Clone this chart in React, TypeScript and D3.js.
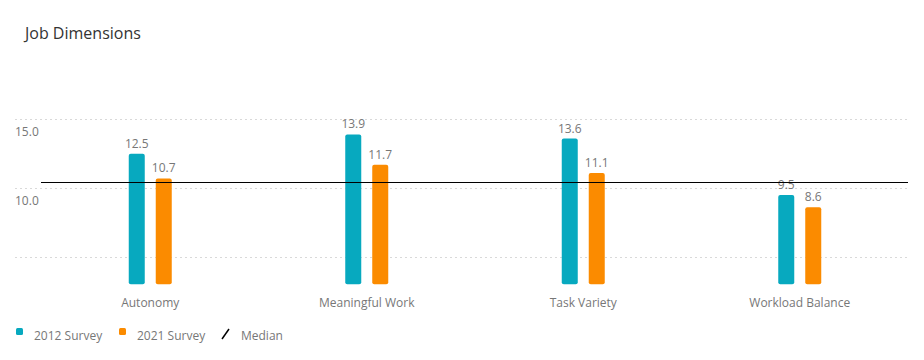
import React from 'react'
import * as d3 from 'd3'

const categories = ['Autonomy', 'Meaningful Work', 'Task Variety', 'Workload Balance']
const seriesNames = ['2012 Survey', '2021 Survey']
const survey2012 = [12.5, 13.9, 13.6, 9.5]
const survey2021 = [10.7, 11.7, 11.1, 8.6]
const medianValue = 10.45
const yTicks = [5, 10, 15]
const colors = ['#07a9bf', '#fb8b00']

const W = 924
const H = 360
const font = "'Open Sans', sans-serif"
const labelColor = '#777'

// snap horizontal lines onto the pixel grid
const crisp = (v: number) => Math.round(v) + 0.5

const App = () => {
  const x = d3.scaleBand().domain(categories).range([42, 908])
  const inner = d3.scaleBand().domain(seriesNames).range([-21.5, 21.5]).paddingInner(0.407)
  const y = d3.scaleLinear().domain([3, 15]).range([284.3, 119.3])
  const values = [survey2012, survey2021]

  return (
    <div style={{ position: 'absolute', left: 0, top: 0 }}>
      <svg width={W} height={H} style={{ display: 'block', fontFamily: font }}>
        <rect width={W} height={H} fill="#fff" />
        <text x={25} y={39} fontSize={16} fill="#333">Job Dimensions</text>

        {/* grid */}
        {yTicks.map((t) => (
          <g key={t}>
            <line x1={15} x2={908} y1={crisp(y(t))} y2={crisp(y(t))} stroke="#d9d9d9" strokeDasharray="2,3" />
            {t !== 5 && (
              <text x={15} y={y(t) + 17} fontSize={12} fill={labelColor}>{t.toFixed(1)}</text>
            )}
          </g>
        ))}

        {/* bars */}
        {categories.map((c, i) => {
          const cx = (x(c) || 0) + x.bandwidth() / 2
          return (
            <g key={c}>
              {seriesNames.map((s, k) => {
                const v = values[k][i]
                const bx = cx + (inner(s) || 0)
                const top = y(v)
                return (
                  <g key={s}>
                    <rect x={bx} y={top} width={inner.bandwidth()} height={y(3) - top} rx={2} fill={colors[k]} />
                    <text x={bx + inner.bandwidth() / 2} y={top - 6} textAnchor="middle" fontSize={12} fill={labelColor}>{v.toFixed(1)}</text>
                  </g>
                )
              })}
              <text x={cx} y={307} textAnchor="middle" fontSize={12} fill={labelColor}>{c}</text>
            </g>
          )
        })}

        {/* median */}
        <line x1={41} x2={908} y1={crisp(y(medianValue))} y2={crisp(y(medianValue))} stroke="#000" strokeWidth={1} />

        {/* legend */}
        <g fontSize={12} fill={labelColor}>
          <rect x={16} y={328} width={7} height={7} rx={1.5} fill={colors[0]} />
          <text x={34} y={340}>{seriesNames[0]}</text>
          <rect x={119} y={328} width={7} height={7} rx={1.5} fill={colors[1]} />
          <text x={137} y={340}>{seriesNames[1]}</text>
          <line x1={222} y1={339} x2={229} y2={329} stroke="#000" strokeWidth={1.5} />
          <text x={241} y={340}>Median</text>
        </g>
      </svg>
    </div>
  )
}

export default App
